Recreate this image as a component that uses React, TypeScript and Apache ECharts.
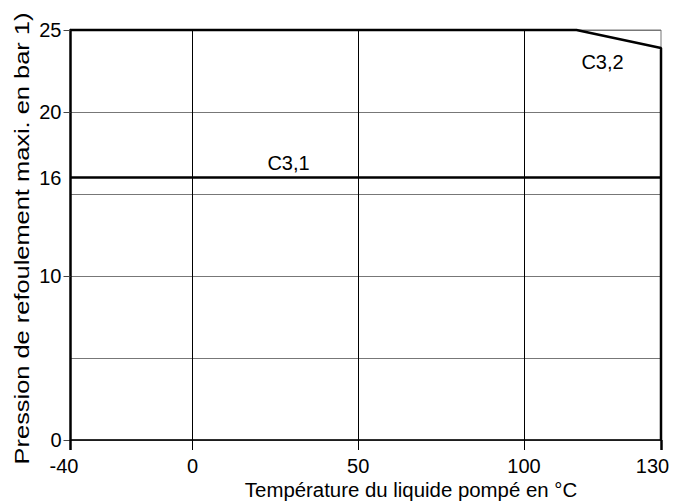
import React, { useEffect, useRef } from "react";
import * as echarts from "echarts";

// ---- data ----
const xTickTemps = [-40, 0, 50, 100, 130];
const xGridTemps = [0, 50, 100];
const xThinTicks = [0, 50, 100];
const xThickTicks = [-40, 130];
const yTickLabels = [0, 10, 16, 20, 25];
const yTickMarks = [0, 10, 20, 25];
const c31Temps = [-40, 130];
const c31Pressure = [16, 16];
const c32Temps = [-40, 111.5, 130, 130];
const c32Pressure = [25, 25, 23.9, 0];

// printed temperature scale is not uniform: relative position of each tick
const xScalePos = [0, 122, 287.6, 453.3, 590.3];

function toPos(t: number): number {
  for (let i = 0; i < xTickTemps.length - 1; i++) {
    const a = xTickTemps[i];
    const b = xTickTemps[i + 1];
    if (t >= a && t <= b) {
      return xScalePos[i] + ((t - a) / (b - a)) * (xScalePos[i + 1] - xScalePos[i]);
    }
  }
  return t < xTickTemps[0] ? xScalePos[0] : xScalePos[xScalePos.length - 1];
}

function labelFor(p: number): string {
  for (let i = 0; i < xScalePos.length; i++) {
    if (Math.abs(xScalePos[i] - p) < 0.01) return String(xTickTemps[i]);
  }
  return "";
}

const FONT = "Liberation Sans, Arial, Helvetica, sans-serif";
const FS = 20;

export default function App() {
  const ref = useRef<HTMLDivElement>(null);

  useEffect(() => {
    if (!ref.current) return;
    const chart = echarts.init(ref.current, undefined, { renderer: "svg" });
    const xMin = xScalePos[0];
    const xMax = xScalePos[xScalePos.length - 1];

    const option: any = {
      animation: false,
      backgroundColor: "#ffffff",
      grid: {
        left: 70.5,
        right: 25,
        top: 30,
        bottom: 62,
        show: true,
        borderColor: "#777777",
        borderWidth: 1,
      },
      xAxis: [
        {
          type: "value",
          min: xMin,
          max: xMax,
          position: "bottom",
          axisLine: { show: true, lineStyle: { color: "#000", width: 1.5 } },
          axisTick: {
            show: true,
            length: 10,
            customValues: xThinTicks.map(toPos),
            lineStyle: { color: "#000", width: 1 },
          },
          splitLine: { show: false },
          axisLabel: {
            show: true,
            customValues: xTickTemps.map(toPos),
            margin: 16,
            color: "#000",
            fontSize: FS,
            fontFamily: FONT,
            formatter: (v: number) => {
              const s = labelFor(v);
              if (s === "-40") return "{l|" + s + "}";
              if (s === "130") return "{r|" + s + "}";
              return "{n|" + s + "}";
            },
            rich: {
              l: { fontSize: FS, fontFamily: FONT, color: "#000", padding: [0, 13, 0, 0] },
              r: { fontSize: FS, fontFamily: FONT, color: "#000", padding: [0, 17, 0, 0] },
              n: { fontSize: FS, fontFamily: FONT, color: "#000" },
            },
          },
        },
        {
          type: "value",
          min: xMin,
          max: xMax,
          position: "bottom",
          axisLine: { show: false },
          axisTick: {
            show: true,
            length: 10,
            customValues: xThickTicks.map(toPos),
            lineStyle: { color: "#000", width: 2.5 },
          },
          splitLine: { show: false },
          axisLabel: { show: false },
        },
      ],
      yAxis: [
        {
          type: "value",
          min: 0,
          max: 25,
          interval: 5,
          position: "left",
          axisLine: { show: false },
          axisTick: { show: false },
          axisLabel: { show: false },
          splitLine: { show: true, lineStyle: { color: "#777777", width: 1 } },
        },
        {
          type: "value",
          min: 0,
          max: 25,
          position: "left",
          axisLine: { show: true, lineStyle: { color: "#000", width: 2.5 } },
          axisTick: {
            show: true,
            length: 7,
            customValues: yTickMarks,
            lineStyle: { color: "#444", width: 1 },
          },
          axisLabel: {
            show: true,
            customValues: yTickLabels,
            margin: 9,
            color: "#000",
            fontSize: FS,
            fontFamily: FONT,
          },
          splitLine: { show: false },
        },
      ],
      series: [
        {
          type: "line",
          name: "grid",
          xAxisIndex: 0,
          yAxisIndex: 0,
          data: [],
          silent: true,
          z: 1,
          markLine: {
            silent: true,
            symbol: ["none", "none"],
            label: { show: false },
            lineStyle: { color: "#000", width: 1, type: "solid" },
            data: xGridTemps.map((t) => ({ xAxis: toPos(t) })),
          },
        },
        {
          type: "line",
          name: "C3,1",
          xAxisIndex: 0,
          yAxisIndex: 0,
          data: c31Temps.map((t, i) => [toPos(t), c31Pressure[i]]),
          showSymbol: false,
          symbol: "none",
          lineStyle: { color: "#000", width: 2.5 },
          z: 3,
          clip: false,
        },
        {
          type: "line",
          name: "C3,2",
          xAxisIndex: 0,
          yAxisIndex: 0,
          data: c32Temps.map((t, i) => [toPos(t), c32Pressure[i]]),
          showSymbol: false,
          symbol: "none",
          lineStyle: { color: "#000", width: 2.5 },
          z: 3,
          clip: false,
        },
      ],
      graphic: [
        {
          type: "text",
          x: 288.5,
          y: 163,
          style: {
            text: "C3,1",
            fill: "#000",
            fontSize: FS,
            fontFamily: FONT,
            align: "center",
            verticalAlign: "middle",
          },
        },
        {
          type: "text",
          x: 602.5,
          y: 62,
          style: {
            text: "C3,2",
            fill: "#000",
            fontSize: FS,
            fontFamily: FONT,
            align: "center",
            verticalAlign: "middle",
          },
        },
        {
          type: "text",
          x: 411,
          y: 490,
          scaleX: 1.02,
          style: {
            text: "Température du liquide pompé en °C",
            fill: "#000",
            fontSize: FS,
            fontFamily: FONT,
            align: "center",
            verticalAlign: "middle",
          },
        },
        {
          type: "text",
          x: 22,
          y: 238.5,
          rotation: Math.PI / 2,
          scaleX: 1.27,
          style: {
            text: "Pression de refoulement maxi. en bar 1)",
            fill: "#000",
            fontSize: FS,
            fontFamily: FONT,
            align: "center",
            verticalAlign: "middle",
          },
        },
      ],
    };

    chart.setOption(option);
    return () => chart.dispose();
  }, []);

  return (
    <div
      ref={ref}
      style={{ position: "absolute", left: 0, top: 0, width: 686, height: 502, background: "#fff" }}
    />
  );
}
